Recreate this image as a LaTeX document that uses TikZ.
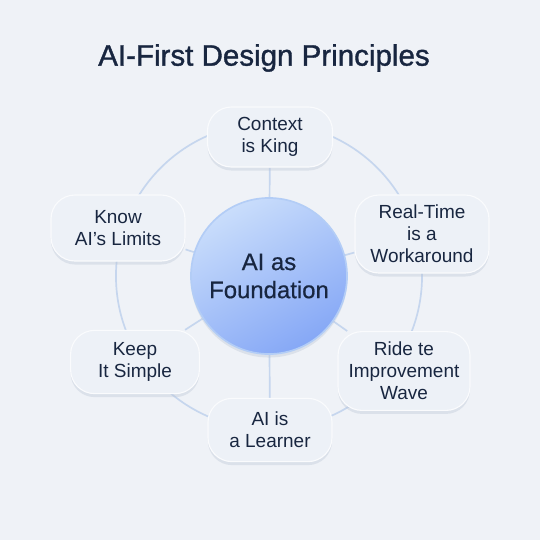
\documentclass[tikz,border=0pt]{standalone}
\usepackage{fontspec}
\setmainfont{Liberation Sans}
\newfontfamily\headfont[FakeBold=1.2]{Liberation Sans}
\newfontfamily\corefont[FakeBold=0.6]{Liberation Sans}
\usetikzlibrary{backgrounds,shadows}

\definecolor{pagebg}{HTML}{EFF2F7}
\definecolor{ringblue}{HTML}{C6D6EE}
\definecolor{cardfill}{HTML}{EDF1F7}
\definecolor{cardedge}{HTML}{FAFBFD}
\definecolor{inkdark}{HTML}{182640}
\definecolor{corelight}{HTML}{C9DDFB}
\definecolor{coredeep}{HTML}{86A8F6}
\definecolor{coreedge}{HTML}{B3CDF6}
\definecolor{shadowtint}{HTML}{B8C2D2}

\tikzset{
    headline/.style={text=inkdark, font=\headfont\fontsize{21}{24}\selectfont},
    card/.style={draw=cardedge, line width=0.8pt, fill=cardfill,
        rounded corners=0.6cm, align=center, text=inkdark,
        font=\fontsize{13.5}{15.5}\selectfont,
        general shadow={fill=shadowtint, opacity=0.35,
            shadow xshift=0pt, shadow yshift=-2.5pt}},
    core/.style={circle, minimum size=3.9cm, draw=coreedge, line width=1.2pt,
        top color=corelight, bottom color=coredeep, shading angle=30,
        align=center, text=inkdark, font=\corefont\fontsize{17}{20}\selectfont,
        general shadow={fill=shadowtint, opacity=0.35,
            shadow xshift=0pt, shadow yshift=-2.5pt}},
    ring/.style={draw=ringblue, line width=1.2pt},
}

\begin{document}
\begin{tikzpicture}[x=0.025cm, y=-0.025cm]
    % Title
    \node[headline] (head) at (264, 58) {AI-First Design Principles};

    % Core
    \node[core] (core) at (269, 276) {AI as\\Foundation};

    % Principles
    \node[card, minimum width=3.125cm, minimum height=1.5cm] (context) at (270, 137) {Context\\is King};
    \node[card, minimum width=3.35cm, minimum height=1.95cm] (realtime) at (422, 234) {Real-Time\\is a\\Workaround};
    \node[card, minimum width=3.3cm, minimum height=1.97cm] (ride) at (404, 371) {Ride te\\Improvement\\Wave};
    \node[card, minimum width=3.1cm, minimum height=1.58cm] (learner) at (270, 430) {AI is\\a Learner};
    \node[card, minimum width=3.22cm, minimum height=1.58cm] (simple) at (135, 362) {Keep\\It Simple};
    \node[card, minimum width=3.35cm, minimum height=1.65cm] (limits) at (118, 228) {Know\\AI’s Limits};

    % Ring and spokes
    \begin{pgfonlayer}{background}
        \fill[pagebg] (0, 0) rectangle (540, 540);
        \draw[ring] (core.center) circle[radius=3.825cm];
        \foreach \p in {context, realtime, ride, learner, simple, limits}
            \draw[ring] (core) -- (\p);
    \end{pgfonlayer}
\end{tikzpicture}
\end{document}
